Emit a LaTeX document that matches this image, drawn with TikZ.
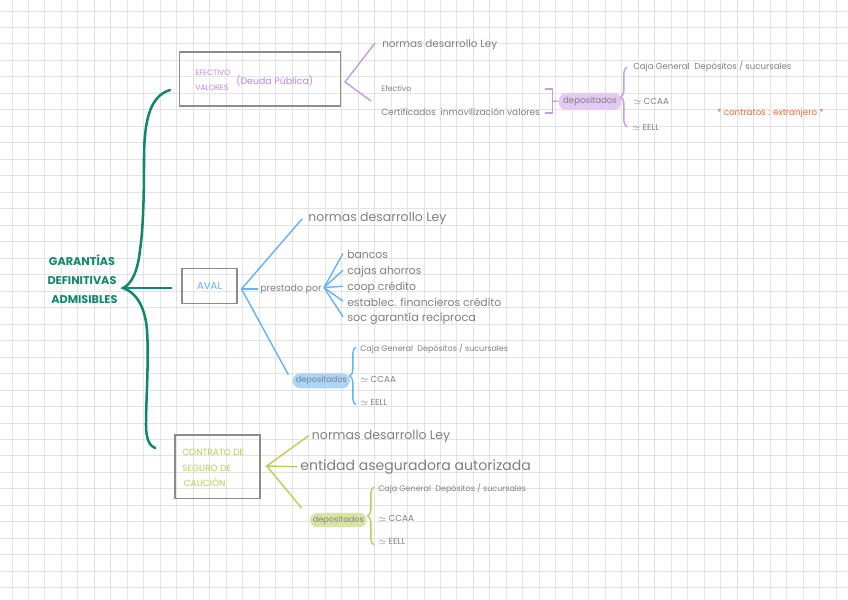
\documentclass[tikz,border=0pt]{standalone}
\usepackage{fontspec}
\setmainfont{Poppins}
\usepackage{tikz}
\usetikzlibrary{calc}
\usetikzlibrary{decorations,decorations.pathreplacing}
\usepackage{xcolor}
\definecolor{inkgray}{HTML}{808080}
\definecolor{boxgray}{HTML}{8C8C8C}
\definecolor{lila}{HTML}{C99BE3}
\definecolor{lilafill}{HTML}{E2CAF0}
\definecolor{lilatext}{HTML}{C283E3}
\definecolor{azul}{HTML}{64B2F8}
\definecolor{azulfill}{HTML}{AAD5FB}
\definecolor{lima}{HTML}{BACD55}
\definecolor{limafill}{HTML}{D7E4A2}
\definecolor{verde}{HTML}{12876F}
\definecolor{naranja}{HTML}{F0692B}
\newcommand{\handfs}[1]{\fontsize{#1}{#1}\selectfont}

\begin{document}
\begin{tikzpicture}[x=0.025cm,y=-0.025cm,
  gridline/.style={draw=gray!22, line width=0.7pt},
  txt/.style={anchor=west, inner sep=0pt, text=inkgray},
  box/.style={draw=boxgray, line width=1.1pt, inner sep=0pt},
  pill/.style={rounded corners=0.19cm, inner sep=0pt, text=inkgray, font=\handfs{6.1}},
  lila line/.style={draw=lila, line width=1pt},
  azul line/.style={draw=azul, line width=1pt},
  lima line/.style={draw=lima, line width=1pt},
  curly/.style={decorate, decoration={brace, amplitude=4.5pt}}
]
\useasboundingbox[fill=white] (0,0) rectangle (848,599);
% grid paper
\foreach \i in {0,...,50} \draw[gridline] ({12+\i*16.48},0) -- ({12+\i*16.48},599);
\foreach \j in {0,...,35} \draw[gridline] (0,{11+\j*16.48}) -- (848,{11+\j*16.48});

% main label and brace
\node[text=verde, font=\handfs{8}\bfseries, align=center, inner sep=0pt] (garant) at (82,279)
  {GARANTÍAS\\[5.6pt]DEFINITIVAS\\[5.6pt]\ \ ADMISIBLES};
\coordinate (gtop) at (170,90);
\coordinate (gmid) at (123,288);
\coordinate (gbot) at (155,448);
\draw[verde, line width=1.8pt, line cap=round] (gtop) .. controls (150,96) and (144,120) .. (144,160)
  .. controls (144,200) and (143,230) .. (140,250)
  .. controls (138,270) and (132,284) .. (gmid)
  .. controls (135,292) and (145,305) .. (147,330)
  .. controls (149,360) and (146,400) .. (146,425)
  .. controls (146,440) and (150,446) .. (gbot);

% efectivo / valores
\node[box, minimum width=4.03cm, minimum height=1.35cm] (efbox) at (260,79) {};
\node[txt, text=lilatext, font=\handfs{5.5}] (efec) at (195,73) {EFECTIVO};
\node[txt, text=lilatext, font=\handfs{5.5}] (valo) at (195,88) {VALORES};
\node[txt, text=lilatext, font=\handfs{6.7}] (deuda) at (236,81) {(Deuda Pública)};
\node[txt, font=\handfs{7.4}] (pnorm) at (382,45) {normas desarrollo Ley};
\node[txt, font=\handfs{5.5}] (pefe) at (381,89) {Efectivo};
\node[txt, font=\handfs{6.4}] (pcert) at (381,112) {Certificados\ \ inmovilización valores};
\coordinate (ptip) at (345,82);
\coordinate (plow) at (371,101);
\draw[lila line] ($(pnorm.west)+(-7,-2)$) -- (ptip) -- (plow);
\node[pill, fill=lilafill, minimum width=1.56cm, minimum height=0.43cm] (ppill) at (590,101.5) {depositados};
\draw[lila line] ($(pcert.east)+(5,-23)$) -| ($(pcert.east)+(12,1)$) -- ($(pcert.east)+(5,1)$);
\draw[lila line] ($(pcert.east)+(12,-11)$) -- (ppill.west);
\draw[lila line, curly] (627,127) -- (627,67);
\node[txt, font=\handfs{6.1}] (pcaja) at (633,67) {Caja General\ \ Depósitos / sucursales};
\node[txt, font=\handfs{6.2}] (pccaa) at (633,101) {$\simeq$ CCAA};
\node[txt, font=\handfs{6.2}] (peell) at (632,127) {$\simeq$ EELL};
\node[txt, text=naranja, font=\handfs{6.2}] (extr) at (717,113.5) {* contratos : extranjero *};

% aval
\node[box, text=azul, font=\handfs{7.2}, minimum width=1.375cm, minimum height=0.875cm] (aval) at (209.5,286) {AVAL};
\draw[verde, line width=1.8pt] (gmid) -- ($(aval.west)+(-9,2)$);
\coordinate (btip) at (241.5,289);
\node[txt, font=\handfs{8.9}] (bnorm) at (308,218) {normas desarrollo Ley};
\node[txt, font=\handfs{6.7}] (prest) at (260,289) {prestado por};
\node[pill, fill=azulfill, minimum width=1.43cm, minimum height=0.375cm, font=\handfs{5.8}] (bpill) at (321.3,380.8) {depositados};
\draw[azul line] ($(bnorm.west)+(-6,1)$) -- (btip) -- ($(bpill.west)+(-4,-6)$);
\draw[azul line] (btip) -- ($(prest.west)+(-2,0)$);
\coordinate (fan) at (324,287.5);
\node[txt, font=\handfs{7.7}] (bancos) at (347,255) {bancos};
\node[txt, font=\handfs{7.7}] (cajas) at (347,271.7) {cajas ahorros};
\node[txt, font=\handfs{7.7}] (coop) at (347,287.7) {coop crédito};
\node[txt, font=\handfs{7.7}] (establec) at (347,302.7) {establec. financieros crédito};
\node[txt, font=\handfs{8}] (soc) at (347,318.3) {soc garantía recíproca};
\foreach \n in {bancos,cajas,coop,establec,soc}
  \draw[azul line] (fan) -- ($(\n.west)+(-4,-1.5)$);
\draw[azul line, curly] (356,405) -- (356,347);
\node[txt, font=\handfs{5.7}] (bcaja) at (360,348.3) {Caja General\ \ Depósitos / sucursales};
\node[txt, font=\handfs{6.2}] (bccaa) at (360,379.3) {$\simeq$ CCAA};
\node[txt, font=\handfs{6.2}] (beell) at (360,402.7) {$\simeq$ EELL};

% contrato de seguro de caucion
\node[box, minimum width=2.125cm, minimum height=1.58cm] (cbox) at (217.5,466.7) {};
\node[txt, text=lima, font=\fontsize{6.4}{11}\selectfont, align=left] (ctxt) at (182,468)
  {CONTRATO DE\\SEGURO DE\\\,CAUCIÓN};
\coordinate (ctip) at (266.7,466);
\node[txt, font=\handfs{8.9}] (cnorm) at (311.7,436.7) {normas desarrollo Ley};
\node[txt, font=\handfs{10}] (cent) at (300,466.7) {entidad aseguradora autorizada};
\node[pill, fill=limafill, minimum width=1.42cm, minimum height=0.36cm, font=\handfs{5.8}] (cpill) at (338.3,520) {depositados};
\draw[lima line] ($(cnorm.west)+(-3,-1)$) -- (ctip) -- ($(cent.west)+(-3,0)$);
\draw[lima line] (ctip) -- ($(cpill.west)+(-8,-12)$);
\draw[lima line, curly] (374,545) -- (374,487);
\node[txt, font=\handfs{5.7}] (ccaja) at (378,488.3) {Caja General\ \ Depósitos / sucursales};
\node[txt, font=\handfs{6.2}] (cccaa) at (378,518.3) {$\simeq$ CCAA};
\node[txt, font=\handfs{6.2}] (ceell) at (378,541.7) {$\simeq$ EELL};
\end{tikzpicture}
\end{document}
